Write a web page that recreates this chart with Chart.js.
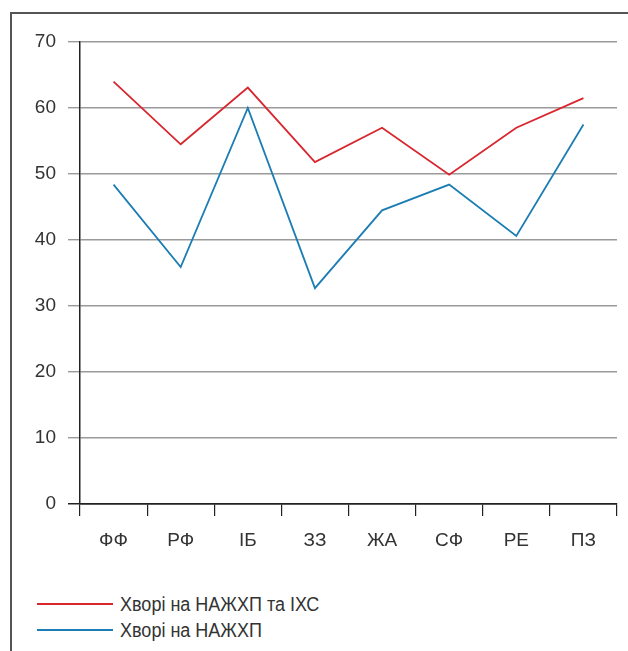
<!DOCTYPE html>
<html>
<head>
<meta charset="utf-8">
<script src="https://cdn.jsdelivr.net/npm/chart.js@4/dist/chart.umd.min.js"></script>
<style>
  html, body { margin: 0; padding: 0; background: #fff; }
  body { width: 628px; height: 651px; position: relative; overflow: hidden;
         font-family: "Liberation Sans", Arial, sans-serif; }
  #frame { position: absolute; left: 10px; top: 12px; width: 640px; height: 660px;
           border-left: 2px solid #555; border-top: 2px solid #555; }
  #wrap { position: absolute; left: 0; top: 0; width: 628px; height: 560px; }
  #legend { position: absolute; left: 37px; top: 591px; color: #333; font-size: 20px; }
  .item { display: flex; align-items: center; height: 26px; white-space: nowrap; }
  .swatch { display: inline-block; width: 76px; height: 2px; margin-right: 7px; }
  .label { display: inline-block; transform: scaleX(0.9); transform-origin: left center; }
</style>
</head>
<body>
<div id="frame"></div>
<div id="wrap"><canvas id="c" width="628" height="560"></canvas></div>
<div id="legend"></div>
<script>
const categories = ["ФФ", "РФ", "ІБ", "ЗЗ", "ЖА", "СФ", "РЕ", "ПЗ"];
const seriesNames = ["Хворі на НАЖХП та ІХС", "Хворі на НАЖХП"];
const withIhd = [64, 54.5, 63.1, 51.8, 57.0, 49.9, 57.0, 61.5];
const nafldOnly = [48.4, 35.9, 60.0, 32.7, 44.5, 48.4, 40.6, 57.5];
const yTicks = [0, 10, 20, 30, 40, 50, 60, 70];

const fontFamily = '"Liberation Sans", Arial, sans-serif';
const colors = ["#d8262e", "#1b7db3"];

const chart = new Chart(document.getElementById("c"), {
  type: "line",
  data: {
    labels: categories,
    datasets: [
      { label: seriesNames[0], data: withIhd, borderColor: colors[0], backgroundColor: colors[0],
        borderWidth: 1.8, pointRadius: 0, tension: 0 },
      { label: seriesNames[1], data: nafldOnly, borderColor: colors[1], backgroundColor: colors[1],
        borderWidth: 1.8, pointRadius: 0, tension: 0 }
    ]
  },
  options: {
    responsive: false,
    animation: false,
    events: [],
    layout: { padding: { top: 42, right: 11, bottom: 0, left: 0 } },
    plugins: { legend: { display: false }, tooltip: { enabled: false } },
    scales: {
      x: {
        offset: true,
        grid: { offset: true, drawOnChartArea: false, drawTicks: true, tickLength: 12,
                color: "#222", lineWidth: 1.2 },
        border: { color: "#222", width: 1.5 },
        ticks: { color: "#333", padding: 13, font: { family: fontFamily, size: 19 }, maxRotation: 0 },
        afterFit: (s) => { s.height = 56; }
      },
      y: {
        min: 0, max: 70,
        afterBuildTicks: (s) => { s.ticks = yTicks.map(v => ({ value: v })); },
        grid: {
          color: (ctx) => ctx.tick && ctx.tick.value === 0 ? "#222" : "#9a9a9a",
          lineWidth: (ctx) => ctx.tick && ctx.tick.value === 0 ? 1.5 : 1.4,
          tickLength: 12
        },
        border: { color: "#222", width: 1.5 },
        ticks: { color: "#333", padding: 12, font: { family: fontFamily, size: 19 } },
        afterFit: (s) => { s.width = 80; }
      }
    }
  }
});

// Legend built from the chart's own datasets, one entry per row
const legend = document.getElementById("legend");
chart.data.datasets.forEach(ds => {
  const row = document.createElement("div");
  row.className = "item";
  const sw = document.createElement("span");
  sw.className = "swatch";
  sw.style.backgroundColor = ds.borderColor;
  const tx = document.createElement("span");
  tx.className = "label";
  tx.textContent = ds.label;
  row.appendChild(sw);
  row.appendChild(tx);
  legend.appendChild(row);
});
</script>
</body>
</html>
